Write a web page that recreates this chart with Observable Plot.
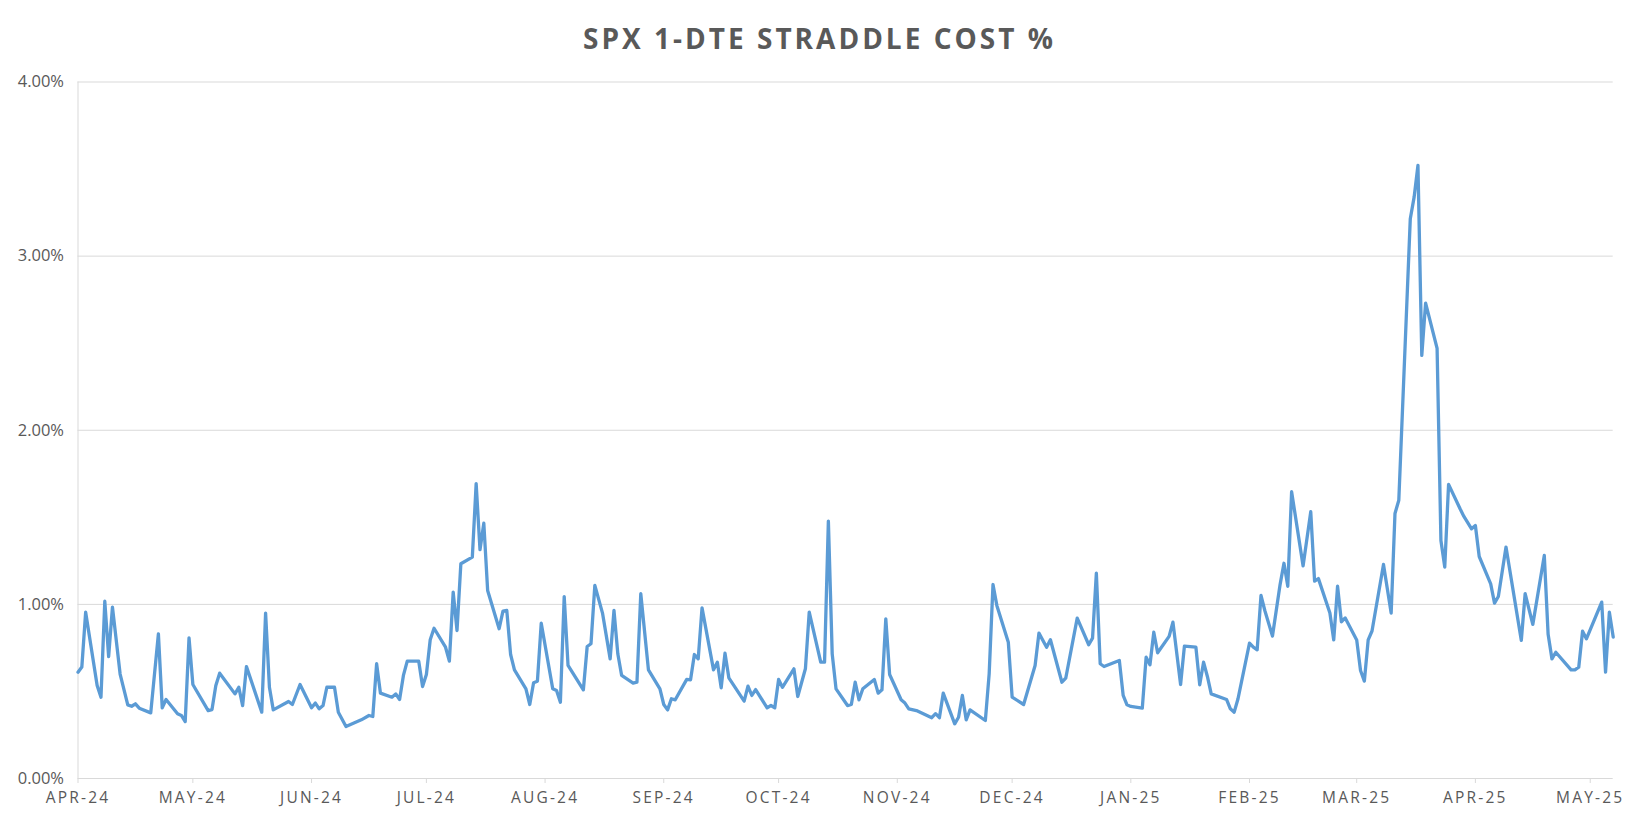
<!DOCTYPE html>
<html>
<head>
<meta charset="utf-8">
<script src="https://cdn.jsdelivr.net/npm/d3@7"></script>
<script src="https://cdn.jsdelivr.net/npm/@observablehq/plot@0.6"></script>
<style>
  body { margin: 0; background: #fff; }
  #title {
    width: 1636px; height: 50px; box-sizing: border-box; padding-top: 24px; padding-left: 3px;
    text-align: center; font-family: "Open Sans", sans-serif; font-weight: 700;
    font-size: 28px; line-height: 28px; letter-spacing: 3px; color: #595959;
  }
  svg [aria-label="x-axis tick label"] text { letter-spacing: 2.2px; font-size: 15.5px; }
  svg [aria-label="y-axis tick label"] text { font-size: 16.5px; }
</style>
</head>
<body>
<div id="title">SPX 1-DTE STRADDLE COST %</div>
<div id="chart"></div>
<script>
// Day offsets from the start date and straddle cost (% of SPX)
const startDate = "2024-04-01";
const endDate = "2025-05-07";
const dayOffset = [
  0,1,2,5,6,7,8,9,11,13,14,15,16,19,21,22,23,26,27,28,29,30,34,35,36,37,41,42,43,44,48,49,50,51,55,56,58,
  61,62,63,64,65,67,68,70,74,76,77,78,79,82,83,84,85,86,89,90,91,92,93,96,97,98,99,100,103,104,105,106,107,110,111,112,113,114,117,118,119,120,121,
  124,125,126,127,128,132,133,134,135,137,139,140,141,142,145,146,147,149,152,153,154,155,156,159,160,161,162,163,166,167,168,169,170,174,175,176,177,180,181,182,183,184,
  187,188,190,191,194,195,196,197,198,201,202,203,204,205,208,209,210,211,212,215,216,217,219,223,224,225,226,229,230,231,232,233,237,238,239,240,243,244,
  247,250,251,253,254,257,258,261,264,265,266,267,268,272,273,274,275,278,279,280,281,282,285,286,288,289,292,293,294,295,296,300,301,302,303,306,307,308,309,310,
  312,314,315,316,317,320,322,323,324,327,328,329,330,331,334,335,336,337,338,341,343,344,345,348,349,350,351,352,355,356,357,358,361,362,364,365,366,369,370,371,373,377,378,380,383,384,385,386,390,391,392,393,394,398,399,400,401
];
const straddlePct = [
  0.61,0.64,0.955,0.534,0.467,1.018,0.70,0.984,0.60,0.423,0.415,0.429,0.404,0.377,0.831,0.406,0.454,0.372,0.362,0.327,0.808,0.54,0.39,0.396,0.534,0.605,0.486,0.524,0.419,0.643,0.381,0.95,0.524,0.394,0.442,0.425,0.54,
  0.406,0.433,0.40,0.419,0.524,0.524,0.381,0.299,0.337,0.362,0.356,0.659,0.49,0.467,0.486,0.454,0.592,0.674,0.674,0.528,0.597,0.797,0.863,0.754,0.674,1.07,0.85,1.233,1.271,1.693,1.314,1.466,1.08,0.86,0.961,0.965,0.712,0.624,0.515,0.425,0.55,0.559,0.892,
  0.515,0.505,0.438,1.045,0.649,0.509,0.758,0.774,1.109,0.95,0.687,0.965,0.716,0.592,0.548,0.553,1.061,0.624,0.515,0.425,0.394,0.458,0.452,0.569,0.567,0.712,0.687,0.98,0.624,0.668,0.521,0.72,0.578,0.444,0.53,0.477,0.511,0.406,0.419,0.406,0.569,0.524,
  0.63,0.471,0.63,0.955,0.668,0.668,1.478,0.716,0.515,0.419,0.425,0.553,0.452,0.515,0.569,0.49,0.509,0.917,0.597,0.452,0.433,0.40,0.39,0.349,0.372,0.349,0.49,0.314,0.352,0.477,0.337,0.394,0.333,0.601,1.114,0.994,0.783,0.467,
  0.425,0.649,0.835,0.754,0.797,0.553,0.576,0.921,0.768,0.806,1.179,0.659,0.643,0.678,0.477,0.423,0.414,0.404,0.697,0.653,0.84,0.722,0.816,0.898,0.54,0.76,0.754,0.538,0.668,0.586,0.486,0.454,0.40,0.381,0.458,0.777,0.754,0.739,1.051,0.965,
  0.818,1.115,1.236,1.104,1.647,1.221,1.532,1.133,1.148,0.95,0.796,1.104,0.90,0.922,0.796,0.62,0.559,0.796,0.847,1.229,0.95,1.522,1.598,3.215,3.339,3.521,2.43,2.73,2.47,1.367,1.214,1.689,1.549,1.505,1.434,1.453,1.275,1.118,1.007,1.045,1.329,0.793,1.061,0.885,1.281,0.828,0.687,0.725,0.624,0.624,0.639,0.846,0.802,1.013,0.611,0.955,0.812
];
const monthTicks = ["2024-04-01","2024-05-01","2024-06-01","2024-07-01","2024-08-01","2024-09-01","2024-10-01","2024-11-01","2024-12-01","2025-01-01","2025-02-01","2025-03-01","2025-04-01","2025-05-01"];
const monthLabels = ["APR-24","MAY-24","JUN-24","JUL-24","AUG-24","SEP-24","OCT-24","NOV-24","DEC-24","JAN-25","FEB-25","MAR-25","APR-25","MAY-25"];
const yTicks = [0, 1, 2, 3, 4];
const yTickLabels = ["0.00%", "1.00%", "2.00%", "3.00%", "4.00%"];

const start = new Date(startDate);
const end = new Date(endDate);
const data = dayOffset.map((o, i) => ({ date: d3.utcDay.offset(start, o), value: straddlePct[i] }));
const tickDates = monthTicks.map(t => new Date(t));
const xLabel = d => monthLabels[tickDates.findIndex(t => +t === +d)];
const yLabel = d => yTickLabels[yTicks.indexOf(d)];

const chart = Plot.plot({
  width: 1636,
  height: 772,
  marginLeft: 77.5,
  marginRight: 23.3,
  marginTop: 31.5,
  marginBottom: 44,
  style: { fontFamily: "'Open Sans', sans-serif", fontSize: "15px", color: "#595959", background: "#fff" },
  x: { type: "utc", domain: [start, end] },
  y: { domain: [0, 4] },
  marks: [
    Plot.ruleY(yTicks.slice(1), { stroke: "#d9d9d9", strokeWidth: 1 }),
    Plot.ruleX([start], { stroke: "#d9d9d9", strokeWidth: 1 }),
    Plot.ruleY([0], { stroke: "#d9d9d9", strokeWidth: 1 }),
    Plot.axisY(yTicks, { tickSize: 0, tickPadding: 14, tickFormat: yLabel, fill: "#595959", label: null }),
    Plot.axisX(tickDates, { tickSize: 5, tickPadding: 8, tickFormat: xLabel, stroke: "#d9d9d9", fill: "#595959", label: null }),
    Plot.line(data, { x: "date", y: "value", stroke: "#5B9BD5", strokeWidth: 3.3, strokeLinejoin: "round", strokeLinecap: "round" })
  ]
});
document.getElementById("chart").appendChild(chart);
</script>
</body>
</html>
